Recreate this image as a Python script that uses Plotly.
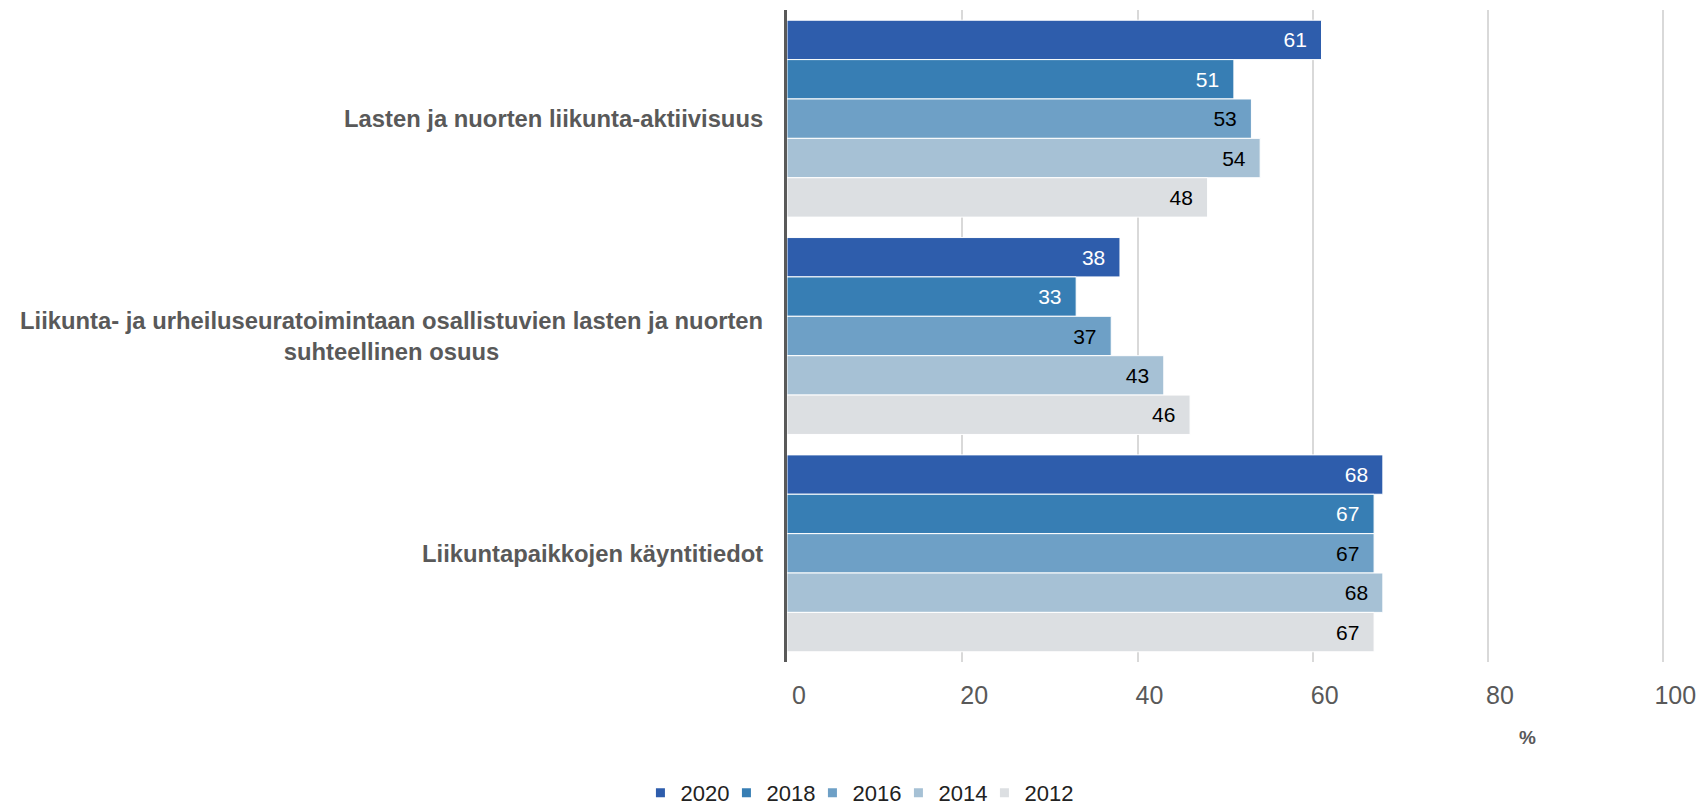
import plotly.graph_objects as go

# categories (top to bottom) and yearly values, %
categories = [
    "Lasten ja nuorten liikunta-aktiivisuus",
    "Liikunta- ja urheiluseuratoimintaan osallistuvien lasten ja nuorten<br>suhteellinen osuus",
    "Liikuntapaikkojen käyntitiedot",
]
years = ["2020", "2018", "2016", "2014", "2012"]
v2020 = [61, 38, 68]
v2018 = [51, 33, 67]
v2016 = [53, 37, 67]
v2014 = [54, 43, 68]
v2012 = [48, 46, 67]
values = [v2020, v2018, v2016, v2014, v2012]

colors = ["#2E5DAC", "#377EB4", "#6EA0C6", "#A6C1D5", "#DCDFE2"]
label_colors = ["white", "white", "black", "black", "black"]

FONT = "Liberation Sans, Arial, sans-serif"
GREY = "#595959"

fig = go.Figure()
for year, vals, col, lc in zip(years, values, colors, label_colors):
    fig.add_trace(go.Bar(
        y=categories, x=vals, orientation="h", name=year,
        marker=dict(color=col, line=dict(color="white", width=1)),
        text=vals, texttemplate="%{text}\u00a0\u00a0", textposition="inside",
        insidetextanchor="end", textangle=0, constraintext="none",
        insidetextfont=dict(family=FONT, size=21, color=lc),
        showlegend=False, hoverinfo="x+name",
    ))
    # legend entry with a small square swatch
    fig.add_trace(go.Scatter(
        x=[None], y=[None], mode="markers", name=year,
        marker=dict(symbol="square", size=9, color=col),
    ))
# empty trailing entry so the last legend label is not clipped
fig.add_trace(go.Scatter(
    x=[None], y=[None], mode="markers", name="",
    marker=dict(size=1, color="rgba(0,0,0,0)"), hoverinfo="skip",
))

annotations = []
for cat in categories:
    annotations.append(dict(
        x=0, y=cat, xref="paper", yref="y", text=cat, showarrow=False,
        xanchor="right", yanchor="middle", align="center", xshift=-22,
        font=dict(family=FONT, size=23.8, color=GREY, weight="bold"),
    ))
annotations.append(dict(
    x=84.5, y=0, xref="x", yref="paper", text="<b>%</b>", showarrow=False,
    xanchor="center", yanchor="middle", yshift=-75,
    font=dict(family=FONT, size=19, color=GREY),
))

fig.update_layout(
    width=1706, height=805,
    margin=dict(l=787, r=34, t=10, b=143),
    paper_bgcolor="white", plot_bgcolor="white",
    barmode="group", bargap=0.094, bargroupgap=0,
    font=dict(family=FONT, color=GREY),
    annotations=annotations,
    legend=dict(
        orientation="h", xref="container", yref="container",
        x=0.3754, y=0.015, xanchor="left", yanchor="middle",
        font=dict(family=FONT, size=22, color="#222222"),
        itemwidth=30, traceorder="normal",
        entrywidth=41, entrywidthmode="pixels",
    ),
    xaxis=dict(
        range=[0, 100.2], tickvals=[0, 20, 40, 60, 80, 100],
        showgrid=True, gridcolor="#D9D9D9", gridwidth=1.5,
        zeroline=False, showline=False,
        tickfont=dict(family=FONT, size=25, color=GREY),
        ticklabelshift=12, ticklabelstandoff=16, ticklabeloverflow="allow",
        fixedrange=True,
    ),
    yaxis=dict(
        range=[2.5, -0.5], showticklabels=False, showgrid=False,
        showline=True, linecolor=GREY, linewidth=2.5, zeroline=False,
        fixedrange=True,
    ),
)

# drop the page's default body margin so the figure fills the window
fig.write_html("out.html", config={"displayModeBar": False},
               post_script="document.body.style.margin = '0px';")
